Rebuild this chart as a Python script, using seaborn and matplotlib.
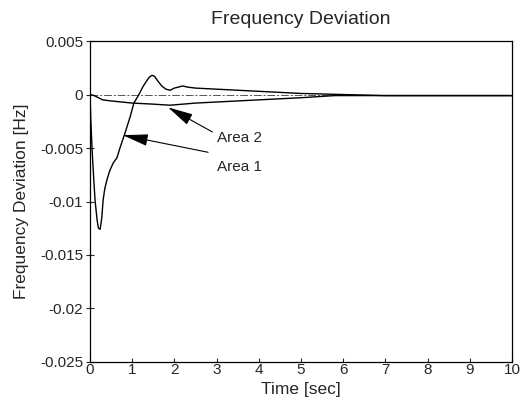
import pandas as pd
import matplotlib
matplotlib.use("Agg")
import matplotlib.pyplot as plt
import seaborn as sns

# ---------------------------------------------------------------
# Valores
# ---------------------------------------------------------------
tempo_area1 = [0.0, 0.02, 0.05, 0.09, 0.12, 0.17, 0.20, 0.24, 0.28, 0.31, 0.35,
               0.40, 0.47, 0.55, 0.64, 0.71, 0.83, 0.95, 1.04, 1.16, 1.25, 1.33,
               1.40, 1.47, 1.53, 1.60, 1.70, 1.80, 1.90, 2.00, 2.10, 2.20, 2.30,
               2.50, 3.0, 3.5, 4.0, 5.0, 6.0, 7.0, 8.0, 9.0, 10.0]
freq_area1 = [0.0, -0.0025, -0.0052, -0.0080, -0.0099, -0.0118, -0.0125,
              -0.0126, -0.0115, -0.0099, -0.0088, -0.0080, -0.0071, -0.0064,
              -0.0059, -0.0050, -0.0036, -0.0021, -0.0008, 0.0, 0.0007, 0.0012,
              0.0016, 0.0018, 0.0017, 0.0013, 0.0008, 0.0005, 0.0004, 0.0006,
              0.0007, 0.0008, 0.0007, 0.0006, 0.0005, 0.0004, 0.0003, 0.0001,
              0.0, -0.0001, -0.0001, -0.0001, -0.0001]

tempo_area2 = [0.0, 0.1, 0.2, 0.3, 0.5, 1.0, 1.5, 1.9, 2.5, 3.0, 4.0, 5.0, 5.8,
               7.0, 8.0, 10.0]
freq_area2 = [0.0, -0.0001, -0.0003, -0.0005, -0.0006, -0.0008, -0.0009,
              -0.0010, -0.0008, -0.0007, -0.0005, -0.0003, -0.0001, -0.0001,
              -0.0001, -0.0001]

rotulos = ["Area 1", "Area 2"]
x_ticks = list(range(0, 11))
y_ticks = [0.005, 0, -0.005, -0.01, -0.015, -0.02, -0.025]
y_tick_labels = ["0.005", "0", "-0.005", "-0.01", "-0.015", "-0.02", "-0.025"]


def montar_dados():
    d1 = pd.DataFrame({"t": tempo_area1, "f": freq_area1, "area": rotulos[0]})
    d2 = pd.DataFrame({"t": tempo_area2, "f": freq_area2, "area": rotulos[1]})
    return pd.concat([d1, d2], ignore_index=True)


def plot_desvio(df):
    sns.set_style("ticks")
    plt.rcParams["font.family"] = ["Liberation Sans", "DejaVu Sans"]

    fig = plt.figure(figsize=(5.31, 4.07), dpi=100)
    ax = fig.add_axes([0.1695, 0.1106, 0.7945, 0.7886])

    # linha de referência em zero
    ax.axhline(0, color="#555555", lw=0.7, ls=(0, (8, 2, 2, 2)), zorder=1)

    sns.lineplot(data=df, x="t", y="f", units="area", estimator=None,
                 color="black", lw=1.0, sort=False, ax=ax, legend=False)

    setas = dict(arrowstyle="-|>,head_length=1.2,head_width=0.28",
                 color="black", lw=0.8, shrinkA=0, shrinkB=0, mutation_scale=13)
    ax.annotate("", xy=(1.85, -0.0012), xytext=(2.9, -0.0035), arrowprops=setas)
    ax.text(3.0, -0.0041, rotulos[1], fontsize=11, va="center", ha="left")
    ax.annotate("", xy=(0.78, -0.0038), xytext=(2.8, -0.0054), arrowprops=setas)
    ax.text(3.0, -0.0068, rotulos[0], fontsize=11, va="center", ha="left")

    ax.set_xlim(0, 10)
    ax.set_ylim(-0.025, 0.005)
    ax.set_xticks(x_ticks)
    ax.set_yticks(y_ticks)
    ax.set_yticklabels(y_tick_labels)
    ax.tick_params(axis="y", labelsize=11, direction="inout", length=6,
                   width=0.8, pad=2)
    ax.tick_params(axis="x", labelsize=11, direction="in", length=3,
                   width=0.8, pad=1)
    for s in ax.spines.values():
        s.set_linewidth(0.9)
        s.set_color("black")

    ax.set_title("Frequency Deviation", fontsize=14, pad=12)
    ax.set_xlabel("Time [sec]", fontsize=12.5, labelpad=3)
    ax.set_ylabel("Frequency Deviation [Hz]", fontsize=12.5, labelpad=8)

    fig.savefig("out.png", dpi=100)


def main():
    df = montar_dados()
    plot_desvio(df)


if __name__ == "__main__":
    main()
